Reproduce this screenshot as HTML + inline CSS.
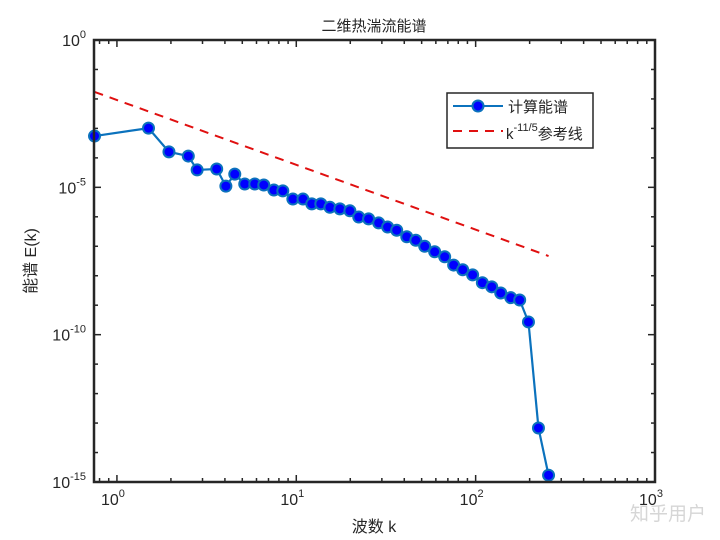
<!DOCTYPE html>
<html><head><meta charset="utf-8"><style>
body{margin:0;background:#fff}
svg{display:block;font-family:"Liberation Sans","Noto Sans CJK SC",sans-serif}
</style></head><body>
<svg id="chart" width="720" height="540" viewBox="0 0 720 540">
<rect width="720" height="540" fill="#fff"/>
<g id="grid"></g>
<g id="series"></g>
<rect x="94" y="40" width="561" height="442" fill="none" stroke="#262626" stroke-width="2.5"/>
<g id="ticks"></g>
<text x="374" y="31" font-size="15" text-anchor="middle" fill="#262626">二维热湍流能谱</text>
<text x="374" y="532" font-size="16" text-anchor="middle" fill="#262626">波数 k</text>
<text transform="translate(36,261) rotate(-90)" font-size="16" text-anchor="middle" fill="#262626">能谱 E(k)</text>
<g>
<rect x="447" y="93" width="146" height="55" fill="#fff" stroke="#262626" stroke-width="1.5"/>
<g>
<line x1="453" y1="106" x2="503" y2="106" stroke="#0b72bd" stroke-width="2"/>
<circle cx="478" cy="106" r="5.5" fill="#0000ff" stroke="#0b72bd" stroke-width="2"/>
<text x="508" y="112" font-size="15" fill="#262626">计算能谱</text>
</g>
<g>
<line x1="453" y1="131" x2="503" y2="131" stroke="#e01010" stroke-width="2" stroke-dasharray="9,7"/>
<text x="506" y="139" font-size="15" fill="#262626">k<tspan font-size="11" dy="-8">-11/5</tspan><tspan dy="8">参考线</tspan></text>
</g>
</g>
<text x="706" y="520" font-size="19" fill="#d6d6d6" text-anchor="end">知乎用户</text>
</svg>
<script>
const kValues=[0.75,1.5,1.95,2.5,2.8,3.6,4.05,4.54,5.16,5.87,6.59,7.5,8.41,9.57,10.9,12.2,13.7,15.4,17.5,19.9,22.3,25.3,28.8,32.3,36.3,41.3,46.4,52,59.1,67.2,75.4,84.7,96.2,109,123,138,157,176,197,224,255];
const eValues=[5.5e-4,1.02e-3,1.6e-4,1.15e-4,3.9e-5,4.2e-5,1.1e-5,2.8e-5,1.3e-5,1.3e-5,1.2e-5,8.1e-6,7.6e-6,4.0e-6,4.0e-6,2.75e-6,2.75e-6,2.1e-6,1.86e-6,1.6e-6,9.8e-7,8.5e-7,6.2e-7,4.5e-7,3.5e-7,2.1e-7,1.6e-7,1.0e-7,6.5e-8,4.4e-8,2.3e-8,1.6e-8,1.07e-8,5.8e-9,4.2e-9,2.6e-9,1.8e-9,1.5e-9,2.7e-10,6.8e-14,1.7e-15];
const refCoef=[0.0092];
const refExponent=[-2.2];
const xTickExps=[0,1,2,3];
const yTickExps=[0,-5,-10,-15];
const NS='http://www.w3.org/2000/svg';
const X0=94,X1=655,Y0=40,Y1=482;
const xmin=Math.log10(0.745),xmax=3,ymin=-15,ymax=0;
function sx(k){return X0+(Math.log10(k)-xmin)/(xmax-xmin)*(X1-X0);}
function sy(e){return Y1-(Math.log10(e)-ymin)/(ymax-ymin)*(Y1-Y0);}
function mk(t,a,p){const e=document.createElementNS(NS,t);for(const n in a)e.setAttribute(n,a[n]);p.appendChild(e);return e;}
const ser=document.getElementById('series'),tk=document.getElementById('ticks');
const kA=kValues[0],kB=kValues[kValues.length-1];
const rl=mk('line',{x1:sx(kA),y1:sy(refCoef[0]*Math.pow(kA,refExponent[0])),x2:sx(kB),y2:sy(refCoef[0]*Math.pow(kB,refExponent[0])),stroke:'#e01010','stroke-width':2,'stroke-dasharray':'9,7'},ser);


const pl=mk('polyline',{points:kValues.map((k,i)=>sx(k)+','+sy(eValues[i])).join(' '),fill:'none',stroke:'#0b72bd','stroke-width':2.2},ser);


kValues.forEach((k,i)=>{
 const c=mk('circle',{cx:sx(k),cy:sy(eValues[i]),r:5.5,fill:'#0000ff',stroke:'#0b72bd','stroke-width':2},ser);
 
 
});
for(let d=-1;d<3;d++)for(let m=1;m<10;m++){
 const k=m*Math.pow(10,d);if(Math.log10(k)<xmin)continue;
 const x=sx(k),L=m===1?7:4;
 mk('line',{x1:x,y1:Y1,x2:x,y2:Y1-L,stroke:'#262626','stroke-width':1.5},tk);
 mk('line',{x1:x,y1:Y0,x2:x,y2:Y0+L,stroke:'#262626','stroke-width':1.5},tk);
}
xTickExps.forEach(p=>{
 const t=mk('text',{x:sx(Math.pow(10,p))-4,y:505,'font-size':16,'text-anchor':'middle',fill:'#262626'},tk);
 t.innerHTML='10<tspan font-size="11" dy="-8">'+p+'</tspan>';
 
 
});
for(let p=-15;p<=0;p++){
 const y=sy(Math.pow(10,p)),L=(p%5===0)?7:4;
 mk('line',{x1:X0,y1:y,x2:X0+L,y2:y,stroke:'#262626','stroke-width':1.5},tk);
 mk('line',{x1:X1,y1:y,x2:X1-L,y2:y,stroke:'#262626','stroke-width':1.5},tk);
}
yTickExps.forEach(p=>{
 const t=mk('text',{x:86,y:sy(Math.pow(10,p))+6,'font-size':16,'text-anchor':'end',fill:'#262626'},tk);
 t.innerHTML='10<tspan font-size="11" dy="-8">'+p+'</tspan>';
 
 
});
</script>
</body></html>
